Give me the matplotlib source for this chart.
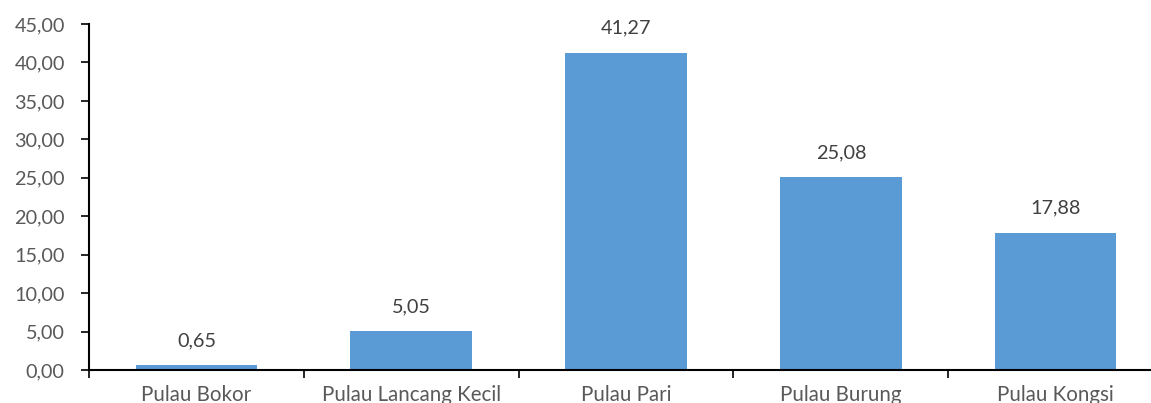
import matplotlib
matplotlib.use("Agg")
import matplotlib.pyplot as plt
from matplotlib.ticker import FixedLocator, FuncFormatter

islands = ["Pulau Bokor", "Pulau Lancang Kecil", "Pulau Pari", "Pulau Burung", "Pulau Kongsi"]
values = [0.65, 5.05, 41.27, 25.08, 17.88]
y_ticks = [0, 5, 10, 15, 20, 25, 30, 35, 40, 45]

BAR_COLOR = "#5B9BD5"
FONT = ["Lato", "DejaVu Sans"]
FS = 14.3


def comma(v):
    return f"{v:.2f}".replace(".", ",")


fig = plt.figure(figsize=(11.51, 4.03), dpi=100)
W, H = 1151, 403
left, right = 89, 1163
bottom, top = 370, 24
ax = fig.add_axes([left / W, (H - bottom) / H, (right - left) / W, (bottom - top) / H])

x = list(range(len(islands)))
ax.bar(x, values, width=0.567, color=BAR_COLOR, zorder=2)

for xi, v in zip(x, values):
    ax.annotate(comma(v), (xi, v), xytext=(0, 17.5), textcoords="offset points",
                ha="center", va="center", fontsize=FS, color="#404040", family=FONT)

ax.set_xlim(-0.5, len(islands) - 0.5)
ax.set_ylim(0, 45)

ax.yaxis.set_major_locator(FixedLocator(y_ticks))
ax.yaxis.set_major_formatter(FuncFormatter(lambda v, p: comma(v)))
ax.tick_params(axis="y", direction="out", length=5.5, width=1.2, color="black",
               labelsize=FS, labelcolor="#595959", pad=12)

# category boundaries get the tick marks, centres get the labels
ax.xaxis.set_major_locator(FixedLocator([i - 0.5 for i in range(len(islands) + 1)]))
ax.xaxis.set_major_formatter(FuncFormatter(lambda v, p: ""))
ax.xaxis.set_minor_locator(FixedLocator(x))
ax.xaxis.set_minor_formatter(FuncFormatter(lambda v, p: islands[int(round(v))]))
ax.tick_params(axis="x", which="major", direction="out", length=6, width=1.2, color="black")
ax.tick_params(axis="x", which="minor", length=0, labelsize=14.8, labelcolor="#595959", pad=10.5)

for lbl in ax.get_xticklabels(minor=True) + ax.get_yticklabels():
    lbl.set_family(FONT)

for s in ("top", "right"):
    ax.spines[s].set_visible(False)
for s in ("left", "bottom"):
    ax.spines[s].set_linewidth(1.5)
    ax.spines[s].set_color("black")

fig.savefig("out.png", dpi=100)
